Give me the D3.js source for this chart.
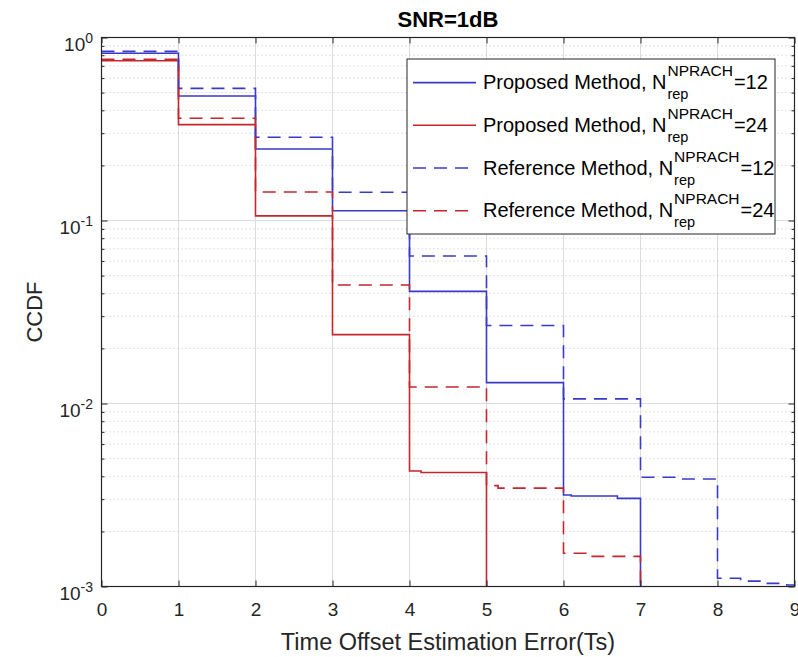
<!DOCTYPE html>
<html>
<head>
<meta charset="utf-8">
<script src="https://cdn.jsdelivr.net/npm/d3@7.9.0/dist/d3.min.js"></script>
<style>
  body { margin: 0; background: #fff; }
  svg { font-family: "Liberation Sans", Arial, Helvetica, sans-serif; }
</style>
</head>
<body>
<div id="chart"></div>
<script>
// step breakpoints (x) and CCDF values
const prop12X = [0, 1, 2, 3, 4, 5, 6, 6.1, 6.7, 7];
const prop12Y = [0.82, 0.479, 0.246, 0.113, 0.041, 0.013, 0.00316, 0.00312, 0.00303, 1e-4];

const prop24X = [0, 1, 2, 3, 4, 4.15, 5];
const prop24Y = [0.747, 0.334, 0.106, 0.0238, 0.00428, 0.0042, 1e-4];

const ref12X = [0, 1, 2, 3, 4, 5, 6, 7, 7.5, 8, 8.3, 8.6, 8.9, 9];
const ref12Y = [0.84, 0.527, 0.285, 0.1426, 0.064, 0.0267, 0.0106, 0.00395, 0.00387, 0.00111, 0.00107, 0.00104, 0.00102, 0.00101];

const ref24X = [0, 1, 2, 3, 4, 5, 5.15, 6, 6.3, 7];
const ref24Y = [0.76, 0.362, 0.143, 0.0444, 0.0123, 0.00356, 0.00345, 0.00152, 0.00146, 1e-4];

const xTicks = [0, 1, 2, 3, 4, 5, 6, 7, 8, 9];
const yDecades = [1, 0.1, 0.01, 0.001];
const yExponents = ["0", "-1", "-2", "-3"];

const seriesNames = ["Proposed Method", "Proposed Method", "Reference Method", "Reference Method"];
const seriesReps = ["12", "24", "12", "24"];

const blue = "#3a3ac8", red = "#c4262b";
const series = [
  { x: prop12X, y: prop12Y, color: blue, dash: null },
  { x: prop24X, y: prop24Y, color: red, dash: null },
  { x: ref12X, y: ref12Y, color: blue, dash: "13,8" },
  { x: ref24X, y: ref24Y, color: red, dash: "13,8" }
];

const W = 798, H = 657;
const m = { left: 101.5, right: 794.5, top: 37.5, bottom: 586.5 };
const axisCol = "#262626";

const svg = d3.select("#chart").append("svg")
  .attr("width", W).attr("height", H);

const x = d3.scaleLinear().domain([0, 9]).range([m.left, m.right]);
const y = d3.scaleLog().domain([1e-3, 1]).range([m.bottom, m.top]);

// minor values 2..9 x 10^k
const minors = [];
[0.001, 0.01, 0.1].forEach(d => { for (let k = 2; k <= 9; k++) minors.push(d * k); });

// 1) Grid
const grid = svg.append("g");
grid.selectAll(".gx").data(xTicks.slice(1, -1)).enter().append("line")
  .attr("x1", d => x(d)).attr("x2", d => x(d))
  .attr("y1", m.top).attr("y2", m.bottom)
  .attr("stroke", "#dcdcdc").attr("stroke-width", 1);
grid.selectAll(".gym").data(minors).enter().append("line")
  .attr("x1", m.left).attr("x2", m.right)
  .attr("y1", d => y(d)).attr("y2", d => y(d))
  .attr("stroke", "#c4c4c4").attr("stroke-width", 1)
  .attr("stroke-dasharray", "1,3");
grid.selectAll(".gy").data([0.1, 0.01]).enter().append("line")
  .attr("x1", m.left).attr("x2", m.right)
  .attr("y1", d => y(d)).attr("y2", d => y(d))
  .attr("stroke", "#dcdcdc").attr("stroke-width", 1);

// 2) Lines
svg.append("clipPath").attr("id", "plotclip")
  .append("rect").attr("x", m.left).attr("y", m.top - 2)
  .attr("width", m.right - m.left + 1).attr("height", m.bottom - m.top + 2);

const line = d3.line()
  .x(d => x(d[0]))
  .y(d => y(d[1]))
  .curve(d3.curveStepAfter);

series.forEach(s => {
  svg.append("path")
    .datum(s.x.map((v, i) => [v, s.y[i]]))
    .attr("clip-path", "url(#plotclip)")
    .attr("fill", "none")
    .attr("stroke", s.color)
    .attr("stroke-width", 1.6)
    .attr("stroke-dasharray", s.dash)
    .attr("d", line);
});

// 3) Axes (MATLAB style box, inward ticks)
const styleAxis = g => {
  g.select(".domain").remove();
  g.selectAll(".tick line").attr("stroke", axisCol);
};

svg.append("g")
  .attr("transform", `translate(0,${m.bottom})`)
  .call(d3.axisBottom(x).tickValues(xTicks).tickSize(-6).tickPadding(16))
  .call(styleAxis)
  .call(g => g.selectAll("text").attr("fill", axisCol).style("font-size", "19px")
    .style("font-family", "'Liberation Sans', Arial, sans-serif"));

svg.append("g")
  .attr("transform", `translate(0,${m.top})`)
  .call(d3.axisTop(x).tickValues(xTicks).tickSize(-6).tickFormat(""))
  .call(styleAxis);

svg.append("g")
  .attr("transform", `translate(${m.left},0)`)
  .call(d3.axisLeft(y).tickValues(yDecades).tickSize(-6).tickFormat(""))
  .call(styleAxis);
svg.append("g")
  .attr("transform", `translate(${m.left},0)`)
  .call(d3.axisLeft(y).tickValues(minors).tickSize(-3).tickFormat(""))
  .call(styleAxis);
svg.append("g")
  .attr("transform", `translate(${m.right},0)`)
  .call(d3.axisRight(y).tickValues(yDecades).tickSize(-6).tickFormat(""))
  .call(styleAxis);
svg.append("g")
  .attr("transform", `translate(${m.right},0)`)
  .call(d3.axisRight(y).tickValues(minors).tickSize(-3).tickFormat(""))
  .call(styleAxis);

// y tick labels 10^k
yDecades.forEach((d, i) => {
  const t = svg.append("text")
    .attr("x", 93)
    .attr("y", y(d) + 13.5)
    .attr("text-anchor", "end")
    .attr("fill", axisCol)
    .style("font-size", "19px");
  t.append("tspan").text("10");
  t.append("tspan").attr("dy", -8.5).style("font-size", "14px").text(yExponents[i]);
});

svg.append("rect")
  .attr("x", m.left).attr("y", m.top)
  .attr("width", m.right - m.left).attr("height", m.bottom - m.top)
  .attr("fill", "none").attr("stroke", axisCol).attr("stroke-width", 1.2);

// 4) Title & labels
svg.append("text")
  .attr("x", (m.left + m.right) / 2).attr("y", 26.5)
  .attr("text-anchor", "middle")
  .attr("fill", "#000")
  .style("font-size", "22px").style("font-weight", "bold")
  .text("SNR=1dB");

svg.append("text")
  .attr("x", (m.left + m.right) / 2).attr("y", 650)
  .attr("text-anchor", "middle")
  .attr("fill", axisCol)
  .style("font-size", "23.5px")
  .text("Time Offset Estimation Error(Ts)");

svg.append("text")
  .attr("transform", `translate(42,${(m.top + m.bottom) / 2}) rotate(-90)`)
  .attr("text-anchor", "middle")
  .attr("fill", axisCol)
  .style("font-size", "22px")
  .text("CCDF");

// 5) Legend
const lg = svg.append("g");
lg.append("rect")
  .attr("x", 407).attr("y", 59)
  .attr("width", 368).attr("height", 175)
  .attr("fill", "#fff").attr("stroke", axisCol).attr("stroke-width", 1);

series.forEach((s, i) => {
  const base = 89.3 + i * 42.7;
  lg.append("line")
    .attr("x1", 413).attr("x2", 476)
    .attr("y1", base - 6.7).attr("y2", base - 6.7)
    .attr("stroke", s.color).attr("stroke-width", 1.6)
    .attr("stroke-dasharray", s.dash);
  const main = lg.append("text")
    .attr("x", 483).attr("y", base)
    .attr("fill", "#000").style("font-size", "20px")
    .text(`${seriesNames[i]}, N`);
  const w = main.node().getComputedTextLength();
  const sup = lg.append("text")
    .attr("x", 483 + w + 1).attr("y", base - 13)
    .attr("fill", "#000").style("font-size", "15.5px")
    .text("NPRACH");
  lg.append("text")
    .attr("x", 483 + w + 1).attr("y", base + 10)
    .attr("fill", "#000").style("font-size", "14.5px")
    .text("rep");
  const sw = sup.node().getComputedTextLength();
  lg.append("text")
    .attr("x", 483 + w + sw + 2).attr("y", base)
    .attr("fill", "#000").style("font-size", "20px")
    .text(`=${seriesReps[i]}`);
});
</script>
</body>
</html>
